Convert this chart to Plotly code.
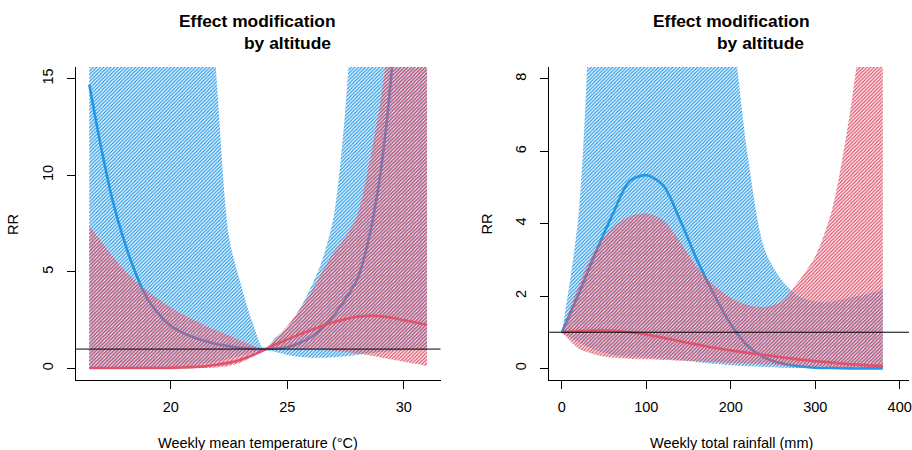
import plotly.graph_objects as go

# ---------------- data: left panel (temperature) ----------------
temp = [16.5, 17, 17.5, 18, 18.5, 19, 19.5, 20, 20.5, 21, 21.5, 22, 22.5, 23, 23.5,
        24, 24.5, 25, 25.5, 26, 26.5, 27, 27.5, 28, 28.5, 29, 29.5, 30, 30.5, 31]
temp_low_rr = [14.7, 11.5, 8.7, 6.6, 4.9, 3.6, 2.8, 2.2, 1.85, 1.6, 1.4, 1.25, 1.15, 1.07, 1.02,
               1.0, 1.03, 1.1, 1.3, 1.6, 2.1, 2.75, 3.6, 4.6, 6.7, 10.1, 15.6, 24, 37, 57]
temp_low_lo = [0.0, 0.0, 0.0, 0.0, 0.01, 0.02, 0.03, 0.05, 0.1, 0.15, 0.25, 0.35, 0.5, 0.65, 0.82,
               0.98, 0.85, 0.7, 0.6, 0.55, 0.55, 0.58, 0.63, 0.7, 0.78, 0.85, 0.9, 0.93, 0.95, 0.97]
temp_low_hi = [300, 250, 200, 160, 130, 100, 80, 60, 45, 33, 24, 14.4, 6.8, 4.4, 2.4,
               1.0, 1.6, 2.1, 3.0, 4.15, 5.6, 7.9, 13.5, 24, 45, 80, 130, 200, 280, 380]
temp_high_rr = [0.02, 0.02, 0.02, 0.02, 0.02, 0.02, 0.02, 0.03, 0.05, 0.08, 0.12, 0.2, 0.3, 0.45, 0.68,
                0.95, 1.25, 1.5, 1.75, 1.97, 2.2, 2.4, 2.55, 2.67, 2.72, 2.7, 2.62, 2.5, 2.38, 2.25]
temp_high_lo = [0.0, 0.0, 0.0, 0.0, 0.0, 0.0, 0.0, 0.0, 0.0, 0.0, 0.02, 0.05, 0.12, 0.3, 0.6,
                0.95, 1.0, 1.02, 1.02, 1.0, 0.97, 0.92, 0.85, 0.77, 0.68, 0.57, 0.46, 0.35, 0.24, 0.13]
temp_high_hi = [7.4, 6.6, 5.8, 5.1, 4.5, 4.0, 3.55, 3.15, 2.8, 2.5, 2.2, 1.95, 1.7, 1.45, 1.2,
                1.0, 1.55, 2.2, 3.0, 3.9, 5.0, 6.0, 6.8, 7.9, 10.5, 13.8, 18.5, 25, 33, 44]

# ---------------- data: right panel (rainfall) ----------------
rain = [0, 20, 40, 60, 80, 100, 120, 140, 160, 180, 200, 220, 240, 260, 280, 300, 320, 340, 360, 380]
rain_low_rr = [1.0, 2.06, 3.2, 4.25, 5.17, 5.34, 5.06, 4.1, 3.0, 2.05, 1.22, 0.62, 0.3, 0.14, 0.06,
               0.02, 0.01, 0.0, 0.0, 0.0]
rain_low_lo = [1.0, 0.72, 0.5, 0.38, 0.32, 0.3, 0.27, 0.23, 0.18, 0.13, 0.09, 0.06, 0.04, 0.02, 0.01,
               0.0, 0.0, 0.0, 0.0, 0.0]
rain_low_hi = [1.0, 4.3, 14, 25, 35, 40, 38, 30, 22, 14.5, 10.0, 5.9, 3.3, 2.45, 2.0,
               1.85, 1.85, 1.95, 2.05, 2.18]
rain_high_rr = [1.0, 1.03, 1.05, 1.04, 1.0, 0.94, 0.85, 0.75, 0.66, 0.57, 0.5, 0.43, 0.37, 0.31, 0.25,
                0.2, 0.16, 0.12, 0.09, 0.07]
rain_high_lo = [1.0, 0.55, 0.38, 0.3, 0.27, 0.25, 0.23, 0.21, 0.19, 0.17, 0.15, 0.13, 0.11, 0.09, 0.07,
                0.05, 0.04, 0.03, 0.02, 0.01]
rain_high_hi = [1.0, 2.3, 3.3, 3.9, 4.2, 4.28, 4.1, 3.5, 2.8, 2.3, 1.95, 1.75, 1.7, 1.85, 2.4,
                3.1, 4.4, 6.9, 10.4, 14.5]

titles = ["Effect modification", "by altitude"]
xlabels = ["Weekly mean temperature (°C)", "Weekly total rainfall (mm)"]
ylabel = "RR"
temp_ticks = [20, 25, 30]
temp_rr_ticks = [0, 5, 10, 15]
rain_ticks = [0, 100, 200, 300, 400]
rain_rr_ticks = [0, 2, 4, 6, 8]

BLUE = "#2297E6"
RED = "#DF536B"
W, H = 912, 450
FONT = "Liberation Sans, Arial, Helvetica, sans-serif"

fig = go.Figure()


def ribbon(x, lo, hi, rr, color, xa, ya, opac, solid):
    fig.add_trace(go.Scatter(x=x, y=lo, mode="lines",
                             line=dict(width=0, color=color, shape="spline", smoothing=0.8),
                             xaxis=xa, yaxis=ya, showlegend=False, hoverinfo="skip"))
    fig.add_trace(go.Scatter(x=x, y=hi, mode="lines",
                             line=dict(width=0, color=color, shape="spline", smoothing=0.8),
                             fill="tonexty", fillcolor="rgba(0,0,0,0)",
                             fillpattern=dict(shape="/", fgcolor=color, bgcolor="rgba(0,0,0,0)",
                                              size=2.5, solidity=solid, fgopacity=opac),
                             xaxis=xa, yaxis=ya, showlegend=False, hoverinfo="skip"))
    fig.add_trace(go.Scatter(x=x, y=rr, mode="lines",
                             line=dict(width=2.6, color=color, shape="spline", smoothing=0.8),
                             xaxis=xa, yaxis=ya, showlegend=False))


ribbon(temp, temp_low_lo, temp_low_hi, temp_low_rr, BLUE, "x", "y", 1.0, 0.5)
ribbon(temp, temp_high_lo, temp_high_hi, temp_high_rr, RED, "x", "y", 1.0, 0.55)
ribbon(rain, rain_low_lo, rain_low_hi, rain_low_rr, BLUE, "x2", "y2", 1.0, 0.5)
ribbon(rain, rain_high_lo, rain_high_hi, rain_high_rr, RED, "x2", "y2", 1.0, 0.55)

yb, yt = 380, 67
ydom = [(H - yb) / H, (H - yt) / H]
axis_common = dict(showgrid=False, zeroline=False, showline=True, linecolor="black", linewidth=1,
                   ticks="outside", ticklen=8, tickwidth=1, tickcolor="black",
                   tickfont=dict(family=FONT, size=14.5, color="black"), mirror=False)

fig.update_layout(
    width=W, height=H, margin=dict(l=0, r=0, t=0, b=0),
    plot_bgcolor="white", paper_bgcolor="white", showlegend=False,
    xaxis=dict(domain=[76 / W, 442 / W], range=[15.92, 31.58], tickvals=temp_ticks,
               anchor="y", ticklabelstandoff=6, **axis_common),
    yaxis=dict(domain=ydom, range=[-0.6, 15.6], tickvals=temp_rr_ticks, tickangle=-90,
               anchor="x", ticklabelstandoff=8, **axis_common),
    xaxis2=dict(domain=[551 / W, 1.0], range=[-15.0, 411], tickvals=rain_ticks,
                anchor="y2", ticklabelstandoff=6, ticklabeloverflow="allow", **axis_common),
    yaxis2=dict(domain=ydom, range=[-0.32, 8.33], tickvals=rain_rr_ticks, tickangle=-90,
                anchor="x2", ticklabelstandoff=8, **axis_common),
)

# reference line RR = 1
for xr, yr in (("x domain", "y"), ("x2 domain", "y2")):
    fig.add_shape(type="line", xref=xr, yref=yr, x0=0, x1=1, y0=1, y1=1,
                  line=dict(color="black", width=1), layer="above")


def ann(text, px, py, size, bold=False, angle=0):
    fig.add_annotation(text=f"<b>{text}</b>" if bold else text, xref="paper", yref="paper",
                       x=px / W, y=1 - py / H, xanchor="center", yanchor="middle",
                       showarrow=False, textangle=angle,
                       font=dict(family=FONT, size=size, color="black"))


ann(titles[0], 258.5, 21, 17.4, bold=True)
ann(titles[1], 288.5, 43, 17.4, bold=True)
ann(titles[0], 733.5, 21, 17.4, bold=True)
ann(titles[1], 763, 43, 17.4, bold=True)
ann(xlabels[0], 258.5, 443, 14.5)
ann(xlabels[1], 733.5, 443, 14.5)
ann(ylabel, 13, 224, 14.5, angle=-90)
ann(ylabel, 489, 224, 14.5, angle=-90)

fig.write_html("out.html")
